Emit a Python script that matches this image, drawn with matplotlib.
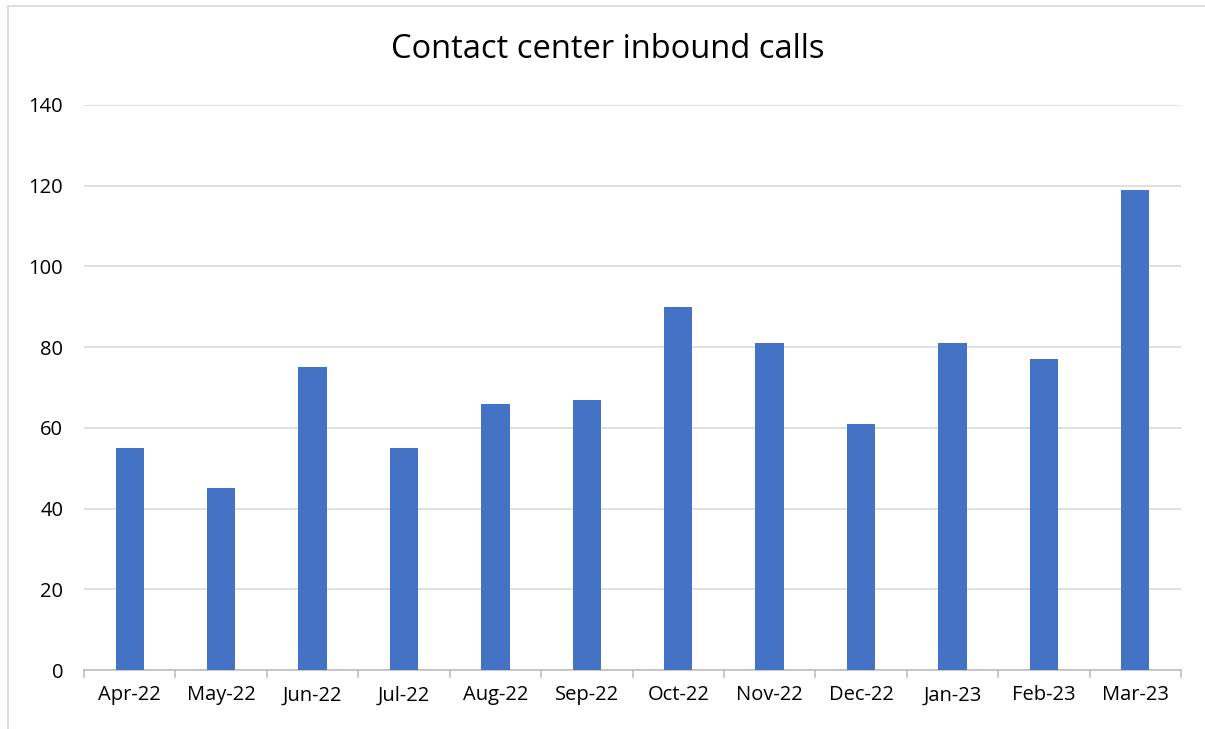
import matplotlib.pyplot as plt
from matplotlib.lines import Line2D

months = ['Apr-22', 'May-22', 'Jun-22', 'Jul-22', 'Aug-22', 'Sep-22',
          'Oct-22', 'Nov-22', 'Dec-22', 'Jan-23', 'Feb-23', 'Mar-23']
calls = [55, 45, 75, 55, 66, 67, 90, 81, 61, 81, 77, 119]
yticks = [0, 20, 40, 60, 80, 100, 120, 140]

plt.rcParams['font.family'] = ['Open Sans', 'DejaVu Sans']

W, H = 1205, 729
fig = plt.figure(figsize=(W / 100, H / 100), dpi=100)
ax = fig.add_axes([84 / W, 1 - 670 / H, (1181 - 84) / W, (670 - 105) / H])

x = range(len(months))
ax.bar(x, calls, width=0.31, color='#4472c4', zorder=3)

ax.set_xlim(-0.5, len(months) - 0.5)
ax.set_ylim(0, 140)
ax.set_yticks(yticks)
ax.set_xticks(list(x))
ax.set_xticklabels(months)
ax.tick_params(axis='both', labelsize=14.5, colors='black', length=0)
ax.tick_params(axis='y', pad=15)
ax.tick_params(axis='x', pad=11)
ax.grid(axis='y', color='#d9d9d9', linewidth=1.2, zorder=0)
for s in ['top', 'right', 'left']:
    ax.spines[s].set_visible(False)
ax.spines['bottom'].set_color('#bfbfbf')
ax.spines['bottom'].set_linewidth(1.2)

# category separators below the axis
for i in range(len(months) + 1):
    ax.plot([i - 0.5, i - 0.5], [0, -1.7], color='#bfbfbf', lw=1.2,
            clip_on=False, zorder=2)

# title is centred on the whole chart, not the plot area
fig.text(608 / W, 1 - 50 / H, 'Contact center inbound calls', fontsize=23.5,
         ha='center', va='center')

# chart border (left and top)
fig.add_artist(Line2D([8 / W, 8 / W], [0, 1 - 6 / H], color='#d9d9d9', lw=1.2))
fig.add_artist(Line2D([8 / W, 1], [1 - 6 / H, 1 - 6 / H], color='#d9d9d9', lw=1.2))

fig.savefig('out.png', dpi=100)
